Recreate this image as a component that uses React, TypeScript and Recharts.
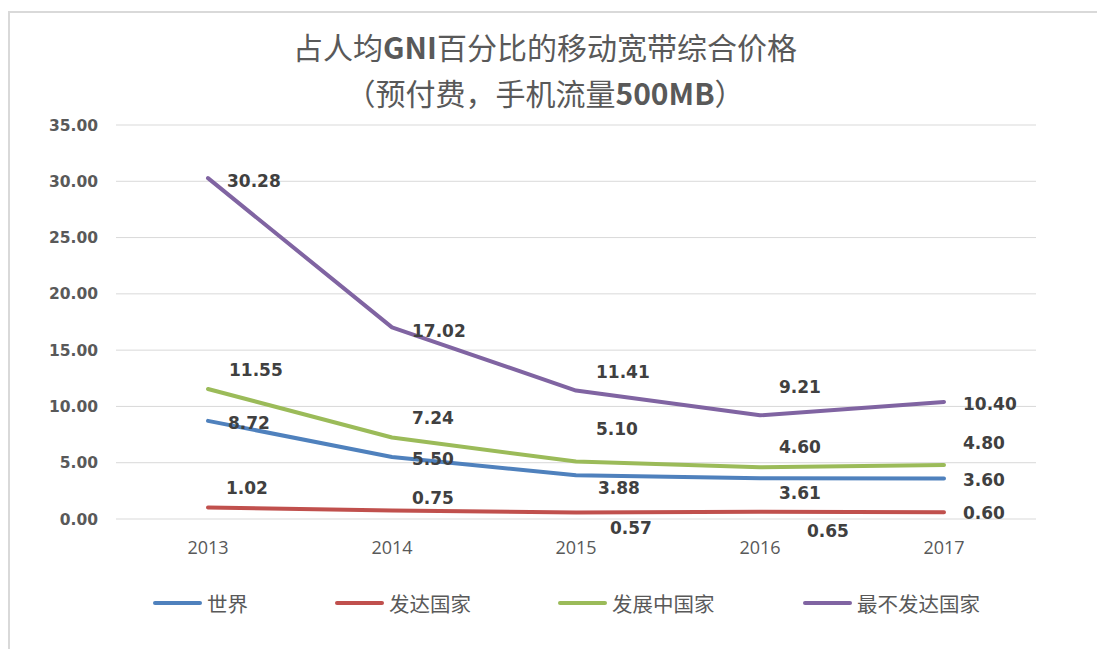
import React from 'react';
import { LineChart, Line, XAxis, YAxis, CartesianGrid, Legend, LabelList } from 'recharts';

const years = ['2013', '2014', '2015', '2016', '2017'];
const world = [8.72, 5.5, 3.88, 3.61, 3.6];
const developed = [1.02, 0.75, 0.57, 0.65, 0.6];
const developing = [11.55, 7.24, 5.1, 4.6, 4.8];
const leastDeveloped = [30.28, 17.02, 11.41, 9.21, 10.4];
const yTicks = [0, 5, 10, 15, 20, 25, 30, 35];
const seriesNames = ['世界', '发达国家', '发展中国家', '最不发达国家'];

const data = years.map((y, i) => ({
  year: y,
  world: world[i],
  developed: developed[i],
  developing: developing[i],
  ldc: leastDeveloped[i],
}));

// label placement (styling): left-edge x offset and vertical centre offset from point
const series = [
  { key: 'world', name: seriesNames[0], color: '#4F81BD', dx: [20, 20, 22, 19, 19], dy: [2, 2, 12, 14, 1.5] },
  { key: 'developed', name: seriesNames[1], color: '#C0504D', dx: [18, 20, 34, 47, 19], dy: [-19.5, -12.6, 15.4, 19, 1] },
  { key: 'developing', name: seriesNames[2], color: '#9BBB59', dx: [21, 20, 20, 19, 19], dy: [-19, -19.5, -32.6, -20, -22] },
  { key: 'ldc', name: seriesNames[3], color: '#8064A2', dx: [19, 20, 20, 19, 19], dy: [3, 3, -19, -29, 2] },
];

const LABEL_FONT = 17;

const makeLabel = (dx: number[], dy: number[]) => (props: any) => {
  const { index, value } = props;
  const px = props.x ?? props.viewBox?.x;
  const py = props.y ?? props.viewBox?.y;
  if (px == null || py == null) return null;
  return (
    <text
      x={px + dx[index]}
      y={py + dy[index] + LABEL_FONT * 0.364}
      textAnchor="start"
      fontFamily="'DejaVu Sans', sans-serif"
      fontWeight={700}
      fontSize={LABEL_FONT}
      fill="#404040"
    >
      {Number(value).toFixed(2)}
    </text>
  );
};

const itemWidths = [182, 223, 245, 200];

const renderLegend = () => (
  <div
    style={{
      height: 60,
      boxSizing: 'border-box',
      paddingTop: 27,
      paddingLeft: 143,
      display: 'flex',
      alignItems: 'center',
    }}
  >
    {series.map((s, i) => (
      <div key={s.key} style={{ width: itemWidths[i], height: 24, display: 'flex', alignItems: 'center', flex: 'none' }}>
        <div style={{ width: 49, height: 4, borderRadius: 2, background: s.color, flex: 'none' }} />
        <span
          style={{
            marginLeft: 5,
            fontFamily: "'Noto Sans CJK SC', sans-serif",
            fontSize: 20.5,
            color: '#595959',
            lineHeight: '24px',
            whiteSpace: 'nowrap',
          }}
        >
          {s.name}
        </span>
      </div>
    ))}
  </div>
);

const latin: React.CSSProperties = {
  fontFamily: "'Liberation Sans Narrow', 'Noto Sans CJK SC', sans-serif",
  fontWeight: 700,
};

export default function App() {
  return (
    <div style={{ paddingTop: 3 }}>
      <div
        style={{
          position: 'relative',
          width: 1097,
          height: 638,
          boxSizing: 'border-box',
          borderTop: '2px solid #d9d9d9',
          borderLeft: '2px solid #d9d9d9',
          background: '#fff',
        }}
      >
        <div
          style={{
            position: 'absolute',
            left: 0,
            top: 10,
            width: 1070,
            textAlign: 'center',
            fontFamily: "'Noto Sans CJK SC', sans-serif",
            fontSize: 30,
            lineHeight: '46px',
            color: '#595959',
            zIndex: 2,
            pointerEvents: 'none',
          }}
        >
          <div>
            占人均<span style={latin}>GNI</span>百分比的移动宽带综合价格
          </div>
          <div>
            （预付费，手机流量<span style={latin}>500MB</span>）
          </div>
        </div>
        <LineChart width={1095} height={636} data={data} margin={{ top: 112, right: 69, left: 0, bottom: 30 }}>
          <CartesianGrid horizontal vertical={false} stroke="#d9d9d9" strokeWidth={1} />
          <XAxis
            dataKey="year"
            axisLine={false}
            tickLine={false}
            tickSize={0}
            tickMargin={22}
            height={40}
            interval={0}
            padding={{ left: 92, right: 92 }}
            tick={{ fontFamily: "'Open Sans', sans-serif", fontSize: 18, fill: '#595959' }}
          />
          <YAxis
            domain={[0, 35]}
            ticks={yTicks}
            interval={0}
            width={106}
            axisLine={false}
            tickLine={false}
            tickSize={0}
            tickMargin={18}
            tickFormatter={(v: number) => v.toFixed(2)}
            tick={{ fontFamily: "'DejaVu Sans', sans-serif", fontWeight: 700, fontSize: 15.5, fill: '#595959' }}
          />
          <Legend
            verticalAlign="bottom"
            height={60}
            wrapperStyle={{ left: 0, width: 1095, bottom: 30, height: 60 }}
            content={renderLegend}
          />
          {series.map((s) => (
            <Line
              key={s.key}
              type="linear"
              dataKey={s.key}
              name={s.name}
              stroke={s.color}
              strokeWidth={4}
              strokeLinecap="round"
              strokeLinejoin="round"
              dot={false}
              activeDot={false}
              isAnimationActive={false}
            >
              <LabelList dataKey={s.key} content={makeLabel(s.dx, s.dy)} />
            </Line>
          ))}
        </LineChart>
      </div>
    </div>
  );
}
